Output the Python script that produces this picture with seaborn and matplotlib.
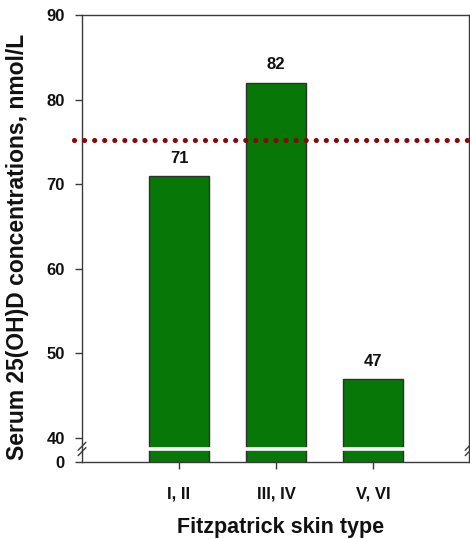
import matplotlib
matplotlib.use("Agg")
import matplotlib.pyplot as plt
import seaborn as sns
import pandas as pd

# Serum 25(OH)D by Fitzpatrick skin type
skin_types = ["I, II", "III, IV", "V, VI"]
serum_25ohd = [71, 82, 47]
sufficiency_cutoff = 75.2

y_tick_values = [40, 50, 60, 70, 80, 90]

sns.set_theme(style="white")
plt.rcParams["font.family"] = ["Liberation Sans", "DejaVu Sans"]
plt.rcParams["font.weight"] = "bold"

df = pd.DataFrame({"skin": skin_types, "value": serum_25ohd})

fig = plt.figure(figsize=(4.70, 5.39), dpi=100)
ax = fig.add_axes([0.1745, 0.1429, 0.8235, 0.8293])

bar_green = "#077807"
sns.barplot(data=df, x="skin", y="value", color=bar_green, saturation=1,
            width=0.61, edgecolor="#2f2f2f", linewidth=1.0, ax=ax, zorder=1)

# broken axis: the zero baseline sits just below the 40 gridline
axis_floor = 37.16
ax.set_ylim(axis_floor, 90)
ax.set_xlim(-1.0, 2.99)

ax.set_yticks([axis_floor] + y_tick_values)
ax.set_yticklabels(["0"] + [str(v) for v in y_tick_values])

# white break band across the bars
ax.axhline(38.7, color="white", lw=2.6, zorder=2)

# reference cut-off as a dotted line
ax.axhline(sufficiency_cutoff, xmin=-0.022, xmax=1.0, color="#860808",
           lw=3.7, ls=(0, (0.01, 1.95)), dash_capstyle="round",
           clip_on=False, zorder=3)

# value labels above each bar
for i, v in enumerate(serum_25ohd):
    ax.annotate(str(v), (i, v), xytext=(0, 9.5), textcoords="offset points",
                ha="center", va="baseline", fontsize=12, fontweight="bold",
                color="#111111")

for side in ["left", "right", "top", "bottom"]:
    ax.spines[side].set_visible(True)
    ax.spines[side].set_color("#3a3a3a")
    ax.spines[side].set_linewidth(1.0)

ax.tick_params(axis="both", direction="out", length=5, width=1.0,
               color="#3a3a3a", labelsize=12)
ax.tick_params(axis="y", left=True, right=False, pad=7.5)
ax.tick_params(axis="x", bottom=True, pad=12.5)
for lab in ax.get_xticklabels() + ax.get_yticklabels():
    lab.set_fontweight("bold")
    lab.set_color("#111111")

# break marks on the left and right spines
yb = (38.7 - axis_floor) / (90 - axis_floor)
for xa in (0.0, 1.0):
    for dy in (-0.006, 0.006):
        ax.plot([xa - 0.010, xa + 0.010], [yb + dy - 0.009, yb + dy + 0.009],
                transform=ax.transAxes, color="#3a3a3a", lw=1.0,
                clip_on=False, zorder=5)

ax.set_xlabel("Fitzpatrick skin type", fontsize=15.5, fontweight="bold",
              color="#111111")
ax.set_ylabel("Serum 25(OH)D concentrations, nmol/L", fontsize=16.5,
              fontweight="bold", color="#111111")
ax.xaxis.set_label_coords(0.512, -0.122)
ax.yaxis.set_label_coords(-0.137, 0.481)

fig.savefig("out.png", dpi=100)
